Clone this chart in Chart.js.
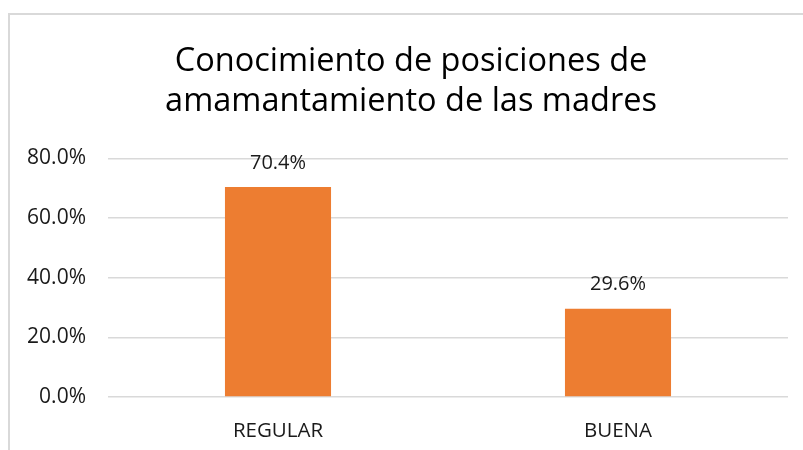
<!DOCTYPE html>
<html>
<head>
<meta charset="utf-8">
<script src="https://cdn.jsdelivr.net/npm/chart.js@4"></script>
<style>
	html, body { margin: 0; padding: 0; background: #fff; overflow: hidden; }
	#frame { position: absolute; left: 8px; top: 13px; width: 830px; height: 470px; border: 2px solid #d9d9d9; box-sizing: border-box; }
	#wrap { position: absolute; left: 0; top: 0; width: 803px; height: 450px; }
</style>
</head>
<body>
<div id="frame"></div>
<div id="wrap"><canvas id="myChart" width="803" height="450"></canvas></div>
<script>
const titleLines = ['Conocimiento de posiciones de', 'amamantamiento de las madres'];
const categories = ['REGULAR', 'BUENA'];
const values = [70.4, 29.6];
const yTicks = [0, 20, 40, 60, 80];

const barColor = '#ED7D31';
const textColor = '#1a1a1a';
const fontFamily = '"Open Sans", sans-serif';

// draws the value above each bar, like the excel data labels
const valueLabels = {
	id: 'valueLabels',
	afterDatasetsDraw(chart) {
		const ctx = chart.ctx;
		const meta = chart.getDatasetMeta(0);
		ctx.save();
		ctx.font = '20px ' + fontFamily;
		ctx.fillStyle = textColor;
		ctx.textAlign = 'center';
		ctx.textBaseline = 'middle';
		meta.data.forEach((bar, i) => {
			ctx.fillText(values[i].toFixed(1) + '%', bar.x, bar.y - 24);
		});
		ctx.restore();
	}
};

// excel centres the title on the frame, a bit right of the canvas middle
const titleShift = {
	id: 'titleShift',
	afterLayout(chart) {
		if (chart.titleBlock) chart.titleBlock.left += 34;
	}
};

const data = {
	labels: [...categories],
	datasets: [{
		data: [...values],
		backgroundColor: barColor,
		borderWidth: 0,
		categoryPercentage: 1,
		barPercentage: 0.312
	}]
};

const options = {
	responsive: false,
	maintainAspectRatio: false,
	animation: false,
	layout: { padding: { top: 0, left: 0, right: 15, bottom: 0 } },
	plugins: {
		legend: { display: false },
		tooltip: { enabled: false },
		title: {
			display: true,
			text: titleLines,
			color: '#000',
			font: { family: fontFamily, size: 32.5, weight: 'normal', lineHeight: 1.25 },
			padding: { top: 41, bottom: 36 }
		}
	},
	scales: {
		x: {
			grid: { display: false },
			border: { display: false },
			ticks: { color: textColor, font: { family: fontFamily, size: 20.5 }, padding: 14 },
			afterFit(scale) { scale.height = 53; }
		},
		y: {
			min: 0,
			max: 80,
			afterBuildTicks(scale) { scale.ticks = yTicks.map(v => ({ value: v })); },
			grid: { color: '#d9d9d9', lineWidth: 1.5, drawTicks: false },
			border: { display: false },
			ticks: {
				color: textColor,
				font: { family: fontFamily, size: 21 },
				padding: 22,
				callback: v => v.toFixed(1) + '%'
			},
			afterFit(scale) { scale.width = 108; }
		}
	}
};

const ctx = document.getElementById('myChart').getContext('2d');
const myNewChart = new Chart(ctx, { type: 'bar', data, options, plugins: [valueLabels, titleShift] });
</script>
</body>
</html>
